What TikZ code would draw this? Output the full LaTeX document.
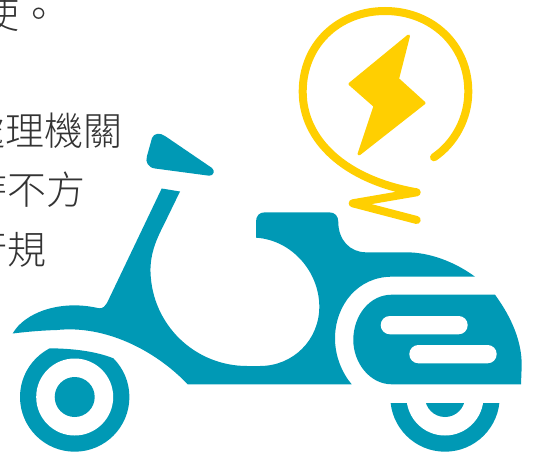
\documentclass[tikz,border=0pt]{standalone}
\usepackage{fontspec}
\newfontfamily\cjk{Noto Sans CJK TC Light}[]
\definecolor{teal}{HTML}{0099B5}
\definecolor{volt}{HTML}{FFCF01}
\definecolor{ink}{HTML}{333333}
\tikzset{
 body/.style={fill=teal,draw=none},
 gap/.style={fill=white,draw=none},
 volt line/.style={draw=volt,line width=8pt,line cap=round,line join=round},
 txt/.style={font=\cjk\fontsize{39}{39}\selectfont,text=ink,inner sep=0pt,anchor=west}
}
\begin{document}
\begin{tikzpicture}[x=1pt,y=-1pt]
\path[use as bounding box] (0,0) rectangle (535,454);
\clip (0,0) rectangle (535,454);
% text
\node[txt] (t1) at (-20,14) {使。};
\node[txt] (t2) at (-34,131) {處理機關};
\node[txt] (t3) at (-32,190) {時不方};
\node[txt] (t4) at (-32,250) {行規};
% mirror
\path[body] (165,136) -- (212,168) .. controls (215,170.5) and (214,176) .. (209,175.7)
 -- (155,168.5) .. controls (148,167.5) and (145,162) .. (147,156)
 -- (152,138) .. controls (154,133) and (160,132.5) .. (165,136) -- cycle;
% main body
\path[body] (161.7,188.5) -- (180,191.5) -- (163,226.5)
 .. controls (155,242) and (150,256) .. (150.5,272)
 .. controls (152,325) and (195,366) .. (247,366)
 -- (260,366)
 .. controls (293,366) and (319.3,340) .. (319.3,306.7)
 .. controls (319.3,272) and (292,240) .. (256,237.7)
 -- (256,222) .. controls (256,216) and (259,212.3) .. (265,212.3)
 -- (329,212.3) .. controls (335,212.3) and (338.3,216) .. (338.3,222)
 .. controls (338.3,240) and (350,252.3) .. (366,252.3)
 -- (406,252.3) .. controls (430,252.3) and (455,262) .. (475,276.7)
 -- (391.7,276.7)
 .. controls (358,276.7) and (335,305) .. (335,338.5)
 .. controls (335,356) and (342,373) .. (351.7,384.3)
 -- (187.7,384.3)
 .. controls (155,350) and (105,325) .. (57,330)
 .. controls (40,330.5) and (25,332) .. (12.7,333.5)
 .. controls (24,313) and (60,299) .. (99,308.3)
 .. controls (103,308.5) and (105.5,306) .. (107,303)
 -- cycle;
% headlight
\path[body] (391.7,294.7) -- (495,294.7)
 .. controls (512,318) and (522,342) .. (521.7,366)
 -- (521,384.3) -- (391.7,384.3)
 .. controls (370,384.3) and (353.3,363) .. (353.3,340)
 .. controls (353.3,315) and (370,294.7) .. (391.7,294.7) -- cycle;
\path[gap,rounded corners=9.1pt] (380.7,316) rectangle (467.7,334.3);
\path[gap,rounded corners=9.1pt] (409.3,345) rectangle (496.7,363.3);
% front wheel
\begin{scope}
\clip (0,454) -- (0,345) -- (49.3,348.3) .. controls (72,348.5) and (95,351) .. (113.3,358.3) -- (135,372) -- (135,454) -- cycle;
\path[body] (74.7,397) circle[radius=54.7];
\path[gap] (74.7,397) circle[radius=38.5];
\path[body] (74.7,397) circle[radius=20];
\end{scope}
% rear wheel
\begin{scope}
\clip (380,403) rectangle (510,454);
\path[body] (445,397) circle[radius=54.7];
\path[gap] (445,397) circle[radius=38.5];
\path[body] (445,397) circle[radius=20];
\end{scope}
% bolt
\path[fill=volt,draw=volt,line width=3pt,line join=round] (408.5,36) -- (397.5,79) -- (424,103) -- (359,154) -- (375,106) -- (350,84) -- cycle;
% cord
\path[volt line] (434,157.3) .. controls (455,143) and (468.3,118) .. (468.3,91.7)
 .. controls (468.3,45) and (432,11) .. (385,11)
 .. controls (338,11) and (302.7,45) .. (302.7,91.7)
 .. controls (302.7,140) and (345,180) .. (416.7,192.3)
 -- (352.7,203.3) -- (416.7,220);
\end{tikzpicture}
\end{document}
